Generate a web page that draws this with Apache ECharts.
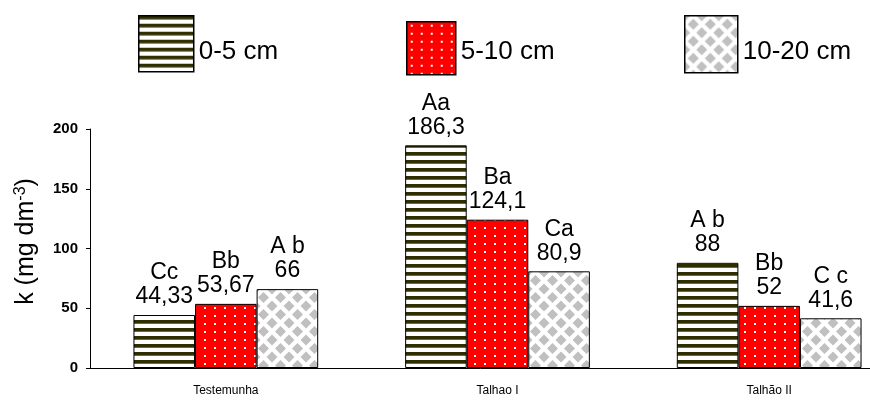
<!DOCTYPE html>
<html>
<head>
<meta charset="utf-8">
<script src="https://cdn.jsdelivr.net/npm/echarts@6/dist/echarts.min.js"></script>
<style>html,body{margin:0;padding:0;background:#fff}#c{width:870px;height:403px}</style>
</head>
<body>
<div id="c"></div>
<script>
const categories = ['Testemunha', 'Talhao I', 'Talhão II'];
const seriesNames = ['0-5 cm', '5-10 cm', '10-20 cm'];
const values05 = [44.33, 186.3, 88];
const values510 = [53.67, 124.1, 52];
const values1020 = [66, 80.9, 41.6];
const letters05 = ['Cc', 'Aa', 'A b'];
const letters510 = ['Bb', 'Ba', 'Bb'];
const letters1020 = ['A b', 'Ca', 'C c'];
const yTicks = [0, 50, 100, 150, 200];

function makeCanvas(w, h) { const c = document.createElement('canvas'); c.width = w; c.height = h; return c; }
function stripePattern() {
  const c = makeCanvas(8, 8), g = c.getContext('2d');
  g.fillStyle = '#ffffff'; g.fillRect(0, 0, 8, 8);
  g.fillStyle = '#2e2e00'; g.fillRect(0, 0, 8, 3);
  g.fillStyle = '#6a6a40'; g.fillRect(0, 3, 8, 1);
  return { image: c, repeat: 'repeat' };
}
function dotPattern() {
  const c = makeCanvas(10, 8), g = c.getContext('2d');
  g.fillStyle = '#ff0000'; g.fillRect(0, 0, 10, 8);
  g.fillStyle = '#ffffff'; g.fillRect(4, 3, 2, 2);
  return { image: c, repeat: 'repeat' };
}
function diamondPattern() {
  const s = 17, r = 5.5;
  const c = makeCanvas(s, s), g = c.getContext('2d');
  g.fillStyle = '#ffffff'; g.fillRect(0, 0, s, s);
  g.fillStyle = '#c0c0c0';
  [[0,0],[s,0],[0,s],[s,s],[s/2,s/2]].forEach(([x,y]) => {
    g.beginPath(); g.moveTo(x, y - r); g.lineTo(x + r, y); g.lineTo(x, y + r); g.lineTo(x - r, y); g.closePath(); g.fill();
  });
  return { image: c, repeat: 'repeat' };
}
const fills = [stripePattern(), dotPattern(), diamondPattern()];
const allValues = [values05, values510, values1020];
const allLetters = [letters05, letters510, letters1020];
const font = "'Liberation Sans', Arial, sans-serif";

const chart = echarts.init(document.getElementById('c'), null, { renderer: 'canvas' });
// [left, top, width, height, text shift down]
const legendBoxes = [[138, 15, 55, 56, 16], [406, 21, 49, 53, 8], [684, 15, 53, 57, 16]];
chart.setOption({
  animation: false,
  backgroundColor: '#ffffff',
  legend: seriesNames.map((n, i) => ({
    data: [n], left: legendBoxes[i][0], top: legendBoxes[i][1], padding: 0,
    itemWidth: legendBoxes[i][2], itemHeight: legendBoxes[i][3], icon: 'rect',
    itemStyle: { borderColor: '#000', borderWidth: 1.5 },
    formatter: name => '{t|' + name + '}',
    textStyle: { fontFamily: font, fontSize: 26, color: '#000',
      rich: { t: { fontFamily: font, fontSize: 26, color: '#000', padding: [legendBoxes[i][4], 0, 0, 0] } } },
    selectedMode: false
  })),
  grid: { left: 90, width: 815, top: 129, height: 239, containLabel: false, outerBoundsMode: 'none' },
  xAxis: {
    type: 'category', data: categories,
    axisLine: { lineStyle: { color: '#000', width: 1 } },
    axisTick: { show: false },
    axisLabel: { color: '#000', fontFamily: font, fontSize: 12, margin: 17 }
  },
  yAxis: {
    type: 'value', min: 0, max: 200, interval: 50,
    axisLine: { show: true, lineStyle: { color: '#000', width: 1 } },
    axisTick: { show: true, length: 4, lineStyle: { color: '#000' } },
    splitLine: { show: false },
    axisLabel: { color: '#000', fontFamily: font, fontSize: 15, fontWeight: 'bold', margin: 12,
      formatter: v => yTicks.includes(v) ? String(v) : '' },
    name: '{a|k (mg dm}{b|-3}{a|)}',
    nameLocation: 'middle', nameGap: 50, nameRotate: 90,
    nameTextStyle: { padding: [0, 0, 0, 14], rich: {
      a: { fontFamily: font, fontSize: 25, color: '#000', lineHeight: 27 },
      b: { fontFamily: font, fontSize: 16, color: '#000', lineHeight: 27, verticalAlign: 'top', padding: [0, 0, 8, 0] }
    } }
  },
  series: seriesNames.map((n, i) => ({
    name: n, type: 'bar', data: allValues[i],
    barGap: '0%', barCategoryGap: '32%',
    itemStyle: { color: fills[i], borderColor: '#000', borderWidth: 1 },
    label: {
      show: true, position: 'top', distance: 6,
      fontFamily: font, fontSize: 23, lineHeight: 24, color: '#000', align: 'center',
      formatter: p => allLetters[i][p.dataIndex] + '\n' + String(p.value).replace('.', ',')
    }
  }))
});
</script>
</body>
</html>
